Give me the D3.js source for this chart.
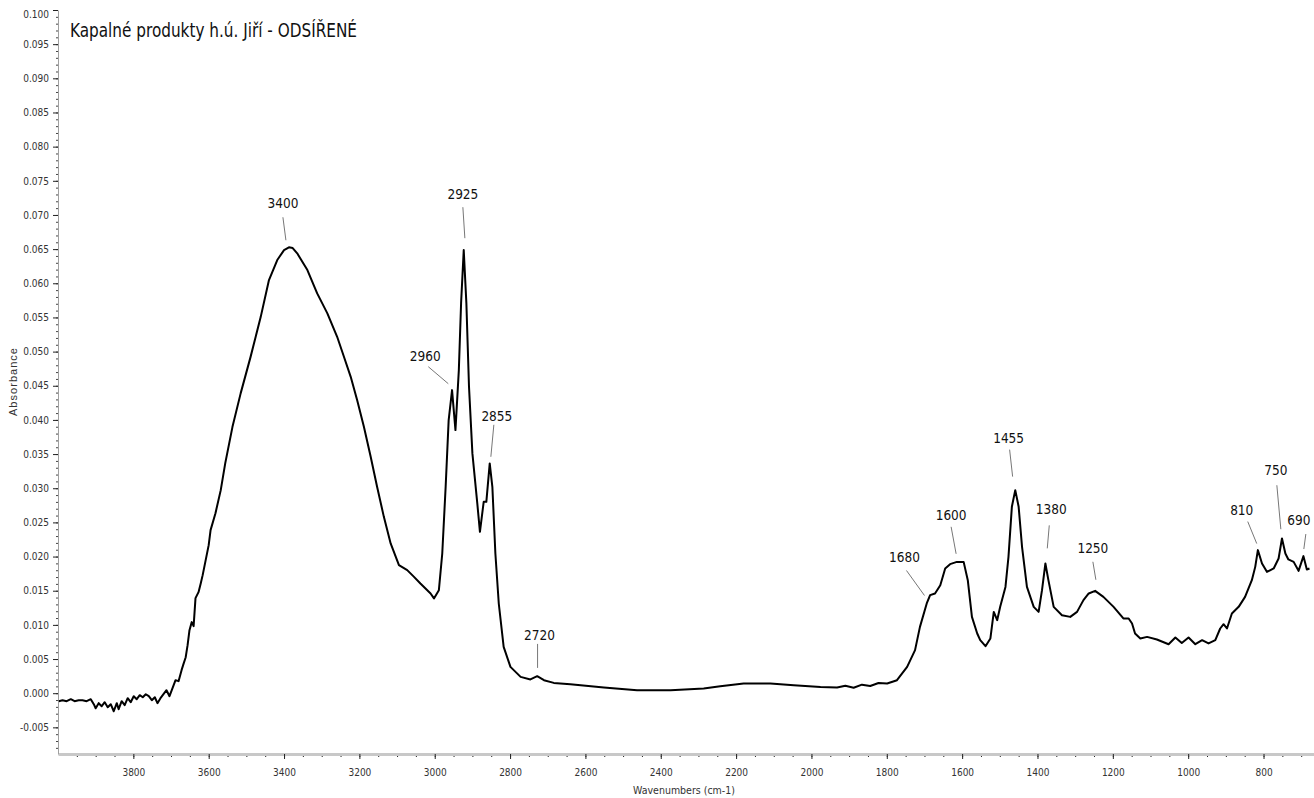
<!DOCTYPE html>
<html>
<head>
<meta charset="utf-8">
<script src="https://cdn.jsdelivr.net/npm/d3@7"></script>
<style>
  body { margin: 0; background: #fff; }
  svg { display: block; }
</style>
</head>
<body>
<div id="chart"></div>
<script>
// spectrum (cm-1, absorbance)
const wavenumber = [
  3998, 3988, 3977, 3966, 3956, 3945, 3935, 3924, 3913, 3905, 3900, 3892, 3884, 3876, 3868, 3860,
  3852, 3844, 3839, 3831, 3823, 3815, 3807, 3799, 3791, 3783, 3775, 3767, 3759, 3751, 3743, 3736,
  3728, 3720, 3712, 3704, 3696, 3688, 3680, 3672, 3667, 3661, 3656, 3651, 3645, 3640, 3635, 3627,
  3621, 3616, 3608, 3600, 3595, 3582, 3568, 3556, 3537, 3515, 3489, 3462, 3440, 3418, 3400, 3387,
  3377, 3365, 3338, 3312, 3285, 3259, 3241, 3223, 3206, 3188, 3170, 3153, 3135, 3117, 3095, 3073,
  3055, 3038, 3011, 3002, 2989, 2980, 2971, 2963, 2954, 2945, 2936, 2930, 2923, 2916, 2909, 2900,
  2887, 2880, 2870, 2863, 2854, 2847, 2839, 2830, 2817, 2799, 2772, 2746, 2728, 2710, 2684, 2640,
  2551, 2463, 2374, 2286, 2242, 2180, 2109, 2047, 1976, 1932, 1910, 1888, 1866, 1844, 1822, 1799,
  1773, 1746, 1725, 1712, 1694, 1685, 1672, 1658, 1645, 1632, 1614, 1596, 1585, 1574, 1560, 1552,
  1538, 1525, 1516, 1507, 1499, 1485, 1477, 1468, 1459, 1450, 1441, 1428, 1410, 1397, 1388, 1379,
  1371, 1357, 1335, 1313, 1295, 1278, 1264, 1247, 1225, 1198, 1172, 1158, 1149, 1141, 1127, 1109,
  1083, 1052, 1034, 1017, 999, 981, 963, 946, 928, 915, 906, 897, 884, 866, 849, 831,
  822, 815, 804, 791, 773, 760, 751, 742, 734, 720, 707, 694, 685, 678
];
const absorbance = [
  -0.00117, -0.00102, -0.00117, -0.00088, -0.00117, -0.00102, -0.00102, -0.00117, -0.00088, -0.00161, -0.00220, -0.00146, -0.00190, -0.00132, -0.00205, -0.00161,
  -0.00264, -0.00146, -0.00234, -0.00117, -0.00176, -0.00073, -0.00132, -0.00044, -0.00088, -0.00029, -0.00059, -0.00015, -0.00044, -0.00102, -0.00059, -0.00146,
  -0.00073, -0.00015, 0.00044, -0.00044, 0.00073, 0.00190, 0.00176, 0.00337, 0.00425, 0.00527, 0.00703, 0.00922, 0.01040, 0.00981, 0.01391, 0.01479,
  0.01611, 0.01728, 0.01947, 0.02167, 0.02387, 0.02635, 0.02972, 0.03367, 0.03895, 0.04392, 0.04919, 0.05505, 0.06047, 0.06340, 0.06486, 0.06526,
  0.06515, 0.06438, 0.06193, 0.05852, 0.05559, 0.05217, 0.04924, 0.04631, 0.04290, 0.03899, 0.03460, 0.03021, 0.02581, 0.02192, 0.01874, 0.01801,
  0.01703, 0.01606, 0.01460, 0.01387, 0.01508, 0.02045, 0.03021, 0.03997, 0.04436, 0.03851, 0.04729, 0.05710, 0.06486, 0.05710, 0.04485, 0.03510,
  0.02777, 0.02362, 0.02801, 0.02801, 0.03363, 0.03021, 0.02045, 0.01313, 0.00678, 0.00385, 0.00239, 0.00201, 0.00249, 0.00190, 0.00151, 0.00132,
  0.00083, 0.00044, 0.00044, 0.00069, 0.00102, 0.00142, 0.00142, 0.00117, 0.00092, 0.00083, 0.00110, 0.00080, 0.00125, 0.00105, 0.00150, 0.00142,
  0.00190, 0.00385, 0.00630, 0.00971, 0.01313, 0.01435, 0.01460, 0.01581, 0.01826, 0.01889, 0.01922, 0.01922, 0.01654, 0.01117, 0.00874, 0.00776,
  0.00688, 0.00801, 0.01190, 0.01069, 0.01264, 0.01556, 0.01996, 0.02728, 0.02972, 0.02728, 0.02142, 0.01556, 0.01264, 0.01190, 0.01508, 0.01899,
  0.01654, 0.01264, 0.01142, 0.01117, 0.01190, 0.01362, 0.01460, 0.01498, 0.01410, 0.01264, 0.01094, 0.01094, 0.01021, 0.00874, 0.00801, 0.00824,
  0.00786, 0.00717, 0.00816, 0.00736, 0.00816, 0.00717, 0.00776, 0.00728, 0.00776, 0.00947, 0.01010, 0.00947, 0.01167, 0.01264, 0.01410, 0.01654,
  0.01849, 0.02094, 0.01899, 0.01776, 0.01826, 0.01972, 0.02265, 0.02045, 0.01958, 0.01922, 0.01791, 0.02006, 0.01811, 0.01826
];

// peak annotations: label and the point the leader line touches
const peakLabels = ['3400', '2925', '2960', '2855', '2720', '1680', '1600', '1455', '1380', '1250', '810', '750', '690'];
const peakWn = [3395, 2920, 2964, 2851, 2727, 1700, 1616, 1466, 1374, 1245, 818, 754, 693];
const peakAbs = [0.0663, 0.0666, 0.0453, 0.0346, 0.0037, 0.0143, 0.0204, 0.0317, 0.0212, 0.0166, 0.0219, 0.0240, 0.0211];

const xTickValues = [3800, 3600, 3400, 3200, 3000, 2800, 2600, 2400, 2200, 2000, 1800, 1600, 1400, 1200, 1000, 800];
const yTickValues = [-0.005, 0, 0.005, 0.010, 0.015, 0.020, 0.025, 0.030, 0.035, 0.040, 0.045, 0.050,
  0.055, 0.060, 0.065, 0.070, 0.075, 0.080, 0.085, 0.090, 0.095, 0.100];

const chartTitle = 'Kapalné produkty h.ú. Jiří - ODSÍŘENÉ';
const xTitle = 'Wavenumbers (cm-1)';
const yTitle = 'Absorbance';

const width = 1314, height = 798;
const plotLeft = 58, plotTop = 10, plotBottom = 754;
const narrow = '"Liberation Sans Narrow", "Arial Narrow", "DejaVu Sans Condensed", sans-serif';

const svg = d3.select('#chart')
              .append('svg')
              .attr('width', width)
              .attr('height', height);

const x = d3.scaleLinear()
            .domain([4000, 666])
            .range([plotLeft, width]);

const y = d3.scaleLinear()
            .domain([-0.0089, 0.100])
            .range([plotBottom, plotTop]);

// minor ticks first
svg.append('g')
   .attr('transform', `translate(0, ${plotBottom})`)
   .call(d3.axisBottom(x).tickValues(d3.range(3950, 666, -50)).tickSize(3).tickFormat(''))
   .call(g => g.select('.domain').remove())
   .call(g => g.selectAll('line').attr('stroke', '#222'));

svg.append('g')
   .attr('transform', `translate(${plotLeft}, 0)`)
   .call(d3.axisLeft(y).tickValues(d3.range(-8, 100).map(d => d / 1000)).tickSize(2).tickFormat(''))
   .call(g => g.select('.domain').remove())
   .call(g => g.selectAll('line').attr('stroke', '#444'));

const xAxis = svg.append('g')
   .attr('transform', `translate(0, ${plotBottom})`)
   .call(d3.axisBottom(x).tickValues(xTickValues).tickSizeInner(5).tickSizeOuter(0).tickPadding(10).tickFormat(d => d));

xAxis.select('.domain').attr('stroke', '#c8c8c8').attr('stroke-width', 3);
xAxis.selectAll('line').attr('stroke', '#222');
xAxis.selectAll('text').attr('font-family', narrow).attr('font-size', 10).attr('fill', '#333');

const yAxis = svg.append('g')
   .attr('transform', `translate(${plotLeft}, 0)`)
   .call(d3.axisLeft(y).tickValues(yTickValues).tickSizeInner(5).tickSizeOuter(0).tickPadding(4).tickFormat(d => d.toFixed(3)));

yAxis.select('.domain').attr('stroke', '#a0a0a0');
yAxis.selectAll('line').attr('stroke', '#222');
yAxis.selectAll('text').attr('font-family', narrow).attr('font-size', 10).attr('fill', '#333');
yAxis.selectAll('.tick').filter(d => d === 0.100).select('text').attr('dy', '0.75em');

// spectrum
const spectrum = wavenumber.map((w, i) => [w, absorbance[i]]);
const line = d3.line()
               .x(d => x(d[0]))
               .y(d => y(d[1]));

svg.append('path')
   .datum(spectrum)
   .attr('d', line)
   .attr('fill', 'none')
   .attr('stroke', '#000')
   .attr('stroke-width', 2)
   .attr('stroke-linejoin', 'round');

// leader line top and label offsets (px) from the touching point
const leaderOffset = [[-3, -23], [-2, -31], [-20, -17], [3, -32], [0, -24], [-18, -25], [-5, -27],
  [-3, -27], [2, -23], [-3, -18], [-9, -22], [-4, -44], [2, -15]];
const labelOffset = [[-3, -32], [-2, -39], [-23, -23], [6, -36], [2, -28], [-20, -33], [-5, -34],
  [-4, -34], [4, -34], [-3, -27], [-15, -29], [-5, -54], [-5, -24]];

const notes = svg.append('g');
peakLabels.forEach((label, i) => {
  const px = x(peakWn[i]), py = y(peakAbs[i]);
  notes.append('line')
       .attr('x1', px).attr('y1', py)
       .attr('x2', px + leaderOffset[i][0]).attr('y2', py + leaderOffset[i][1])
       .attr('stroke', '#777')
       .attr('stroke-width', 1);
  notes.append('text')
       .attr('x', px + labelOffset[i][0])
       .attr('y', py + labelOffset[i][1])
       .attr('text-anchor', 'middle')
       .attr('font-family', narrow)
       .attr('font-size', 13.5)
       .attr('fill', '#111')
       .text(label);
});

svg.append('text')
   .attr('x', 70)
   .attr('y', 37)
   .attr('font-family', narrow)
   .attr('font-size', 20)
   .attr('textLength', 287)
   .attr('lengthAdjust', 'spacingAndGlyphs')
   .attr('fill', '#111')
   .text(chartTitle);

svg.append('text')
   .attr('x', 684)
   .attr('y', 794)
   .attr('text-anchor', 'middle')
   .attr('font-family', narrow)
   .attr('font-size', 10.5)
   .attr('fill', '#333')
   .text(xTitle);

svg.append('text')
   .attr('transform', 'translate(17, 382) rotate(-90)')
   .attr('text-anchor', 'middle')
   .attr('font-family', '"Liberation Sans", Arial, sans-serif')
   .attr('font-size', 11)
   .attr('textLength', 68)
   .attr('fill', '#333')
   .text(yTitle);
</script>
</body>
</html>
